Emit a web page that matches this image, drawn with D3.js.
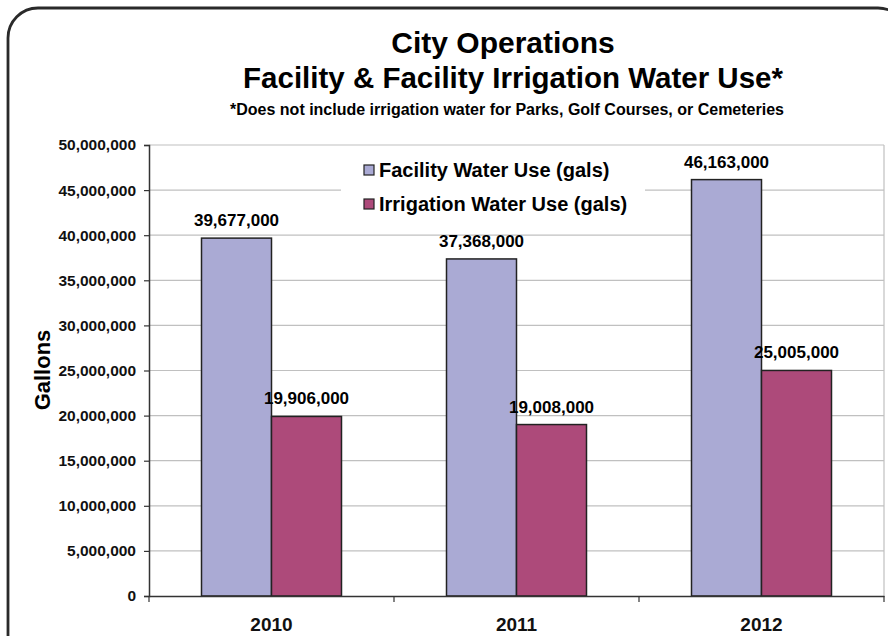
<!DOCTYPE html>
<html>
<head>
<meta charset="utf-8">
<script src="https://cdn.jsdelivr.net/npm/d3@7"></script>
<style>
  body { margin: 0; background: #fff; }
  svg { display: block; font-family: "Liberation Sans", Arial, sans-serif; font-weight: bold; }
</style>
</head>
<body>
<script>
// chart data
var years = ["2010", "2011", "2012"];
var seriesNames = ["Facility Water Use (gals)", "Irrigation Water Use (gals)"];
var facilityUse = [39677000, 37368000, 46163000];
var irrigationUse = [19906000, 19008000, 25005000];
var yTicks = [0, 5000000, 10000000, 15000000, 20000000, 25000000, 30000000, 35000000, 40000000, 45000000, 50000000];
var colors = ["#aaaad4", "#ad4a7a"];

var width = 888, height = 636;
var margin = { top: 145, right: 4, bottom: 40, left: 149 };

var svg = d3.select("body").append("svg")
  .attr("width", width)
  .attr("height", height);

// outer rounded frame, runs off the right and bottom edge
svg.append("rect")
  .attr("x", 8).attr("y", 8)
  .attr("width", 900).attr("height", 660)
  .attr("rx", 30).attr("ry", 30)
  .attr("fill", "#fff")
  .attr("stroke", "#2a2a2a")
  .attr("stroke-width", 2.8);

// titles
svg.append("text").attr("x", 503).attr("y", 53)
  .attr("text-anchor", "middle").style("font-size", "30px")
  .text("City Operations");
svg.append("text").attr("x", 513).attr("y", 88)
  .attr("text-anchor", "middle").style("font-size", "29.5px")
  .text("Facility & Facility Irrigation Water Use*");
svg.append("text").attr("x", 507).attr("y", 115)
  .attr("text-anchor", "middle").style("font-size", "16px")
  .text("*Does not include irrigation water for Parks, Golf Courses, or Cemeteries");

var x0 = d3.scaleBand().domain(years)
  .range([margin.left, width - margin.right]);
var x1 = d3.scaleBand().domain(seriesNames)
  .range([0, x0.bandwidth()]).paddingOuter(0.75);
var y = d3.scaleLinear().domain([0, 50000000])
  .range([height - margin.bottom, margin.top]);

// gridlines
svg.append("g").selectAll("line")
  .data(yTicks.slice(1))
  .enter().append("line")
  .attr("x1", margin.left).attr("x2", width - margin.right)
  .attr("y1", function (d) { return y(d); })
  .attr("y2", function (d) { return y(d); })
  .attr("stroke", "#c0c0c0").attr("stroke-width", 1.2);
svg.append("line")
  .attr("x1", width - margin.right).attr("x2", width - margin.right)
  .attr("y1", y(50000000)).attr("y2", y(0))
  .attr("stroke", "#c0c0c0").attr("stroke-width", 1.2);

// legend (white box hides the gridlines behind it)
var legend = svg.append("g");
legend.append("rect")
  .attr("x", 341).attr("y", 151).attr("width", 304).attr("height", 74)
  .attr("fill", "#fff");
seriesNames.forEach(function (name, i) {
  var ly = 177 + i * 34;
  legend.append("rect")
    .attr("x", 364).attr("y", ly - 12).attr("width", 10).attr("height", 10)
    .attr("fill", colors[i]).attr("stroke", "#222").attr("stroke-width", 1.2);
  legend.append("text").attr("x", 379).attr("y", ly)
    .style("font-size", "20px").text(name);
});

// bars
var rows = years.map(function (yr, i) {
  return { year: yr, values: [facilityUse[i], irrigationUse[i]] };
});
var groups = svg.append("g").selectAll("g")
  .data(rows).enter().append("g")
  .attr("transform", function (d) { return "translate(" + x0(d.year) + ",0)"; });

groups.selectAll("rect")
  .data(function (d) {
    return d.values.map(function (v, i) { return { name: seriesNames[i], value: v, i: i }; });
  })
  .enter().append("rect")
  .attr("x", function (d) { return x1(d.name); })
  .attr("y", function (d) { return y(d.value); })
  .attr("width", x1.bandwidth())
  .attr("height", function (d) { return y(0) - y(d.value); })
  .attr("fill", function (d) { return colors[d.i]; })
  .attr("stroke", "#222").attr("stroke-width", 1.5);

groups.selectAll("text")
  .data(function (d) {
    return d.values.map(function (v, i) { return { name: seriesNames[i], value: v }; });
  })
  .enter().append("text")
  .attr("x", function (d) { return x1(d.name) + x1.bandwidth() / 2; })
  .attr("y", function (d) { return y(d.value) - 12; })
  .attr("text-anchor", "middle")
  .style("font-size", "17px")
  .text(function (d) { return d3.format(",")(d.value); });

// y axis
var yAxis = svg.append("g")
  .attr("transform", "translate(" + margin.left + ",0)")
  .call(d3.axisLeft(y).tickValues(yTicks).tickFormat(d3.format(",")).tickSizeOuter(0).tickSize(5).tickPadding(8));
yAxis.selectAll("text").style("font-size", "15.5px").attr("fill", "#111")
  .style("font-family", "'Liberation Sans', Arial, sans-serif");
yAxis.select(".domain").attr("stroke", "#333").attr("stroke-width", 1.5);
yAxis.selectAll(".tick line").attr("stroke", "#333").attr("stroke-width", 1.2);

// x axis
var xAxis = svg.append("g")
  .attr("transform", "translate(0," + y(0) + ")")
  .call(d3.axisBottom(x0).tickSize(0).tickPadding(22));
xAxis.selectAll("text").style("font-size", "19px").attr("fill", "#111")
  .style("font-family", "'Liberation Sans', Arial, sans-serif");
xAxis.select(".domain").attr("stroke", "#333").attr("stroke-width", 1.5);
xAxis.selectAll(".sep")
  .data(d3.range(years.length + 1))
  .enter().append("line").attr("class", "sep")
  .attr("x1", function (i) { return margin.left + i * x0.step(); })
  .attr("x2", function (i) { return margin.left + i * x0.step(); })
  .attr("y1", 0).attr("y2", 6)
  .attr("stroke", "#333").attr("stroke-width", 1.2);

// y axis title
svg.append("text")
  .attr("transform", "translate(50," + 370 + ") rotate(-90)")
  .attr("text-anchor", "middle")
  .style("font-size", "22px")
  .text("Gallons");
</script>
</body>
</html>
